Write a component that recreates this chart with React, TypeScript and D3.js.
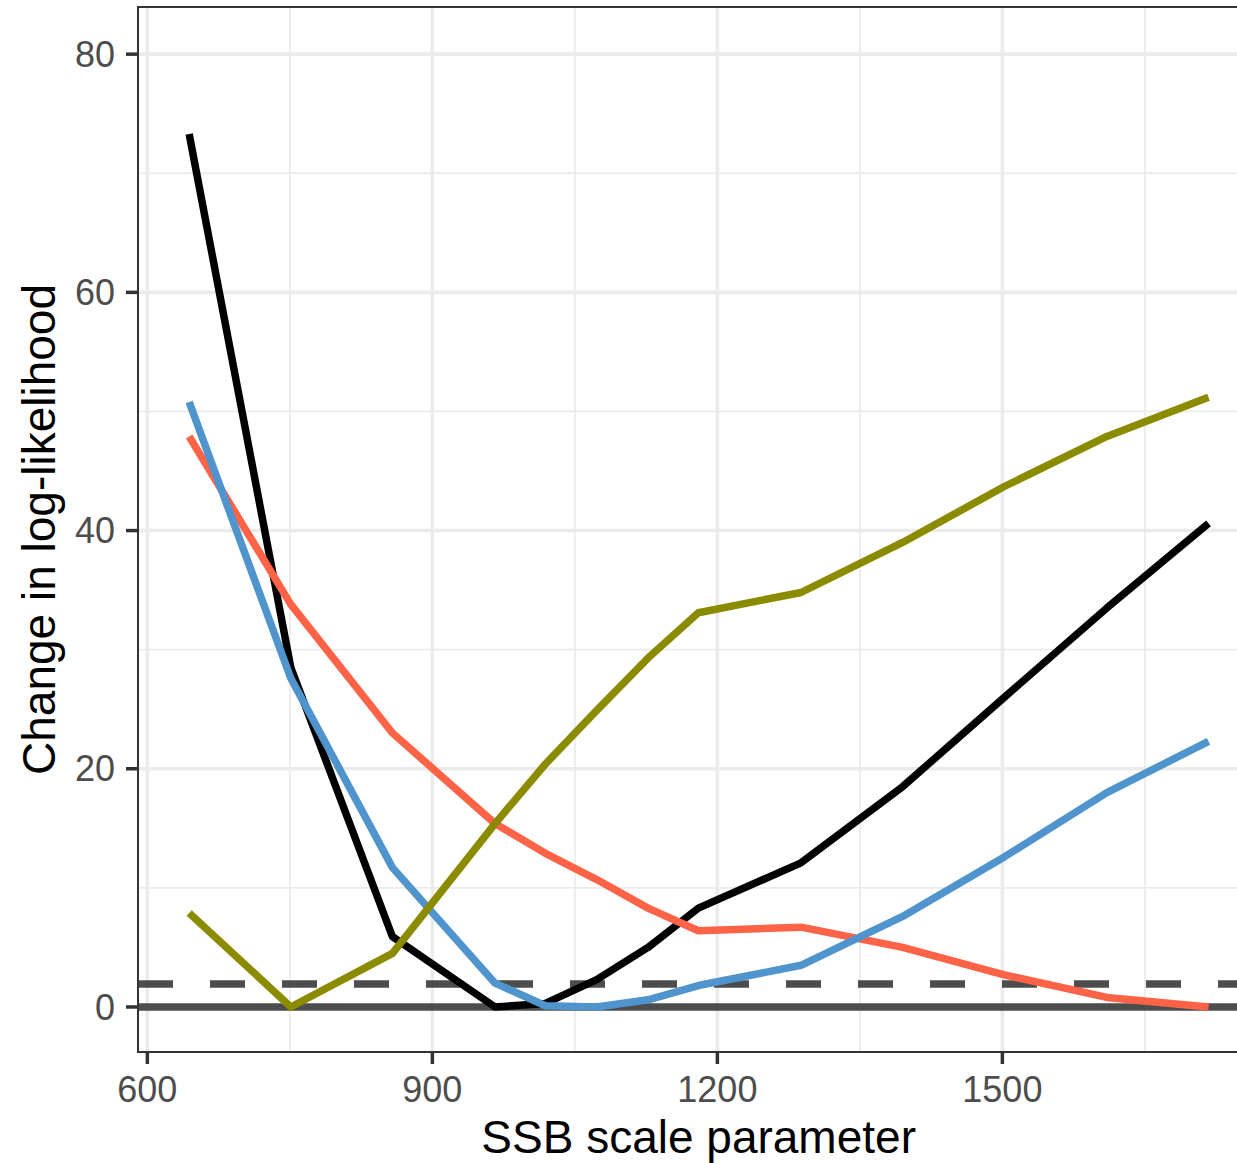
import React from "react";
import * as d3 from "d3";

const ssb = [644, 751, 858, 966, 1019, 1073, 1127, 1180, 1288, 1395, 1502, 1610, 1717];
const totalLL = [73.3, 28.5, 5.9, 0, 0.3, 2.3, 5.0, 8.3, 12.1, 18.5, 26.0, 33.5, 40.6];
const redLL = [47.9, 33.8, 23.0, 15.4, 12.9, 10.7, 8.3, 6.4, 6.7, 5.0, 2.7, 0.8, 0];
const blueLL = [50.8, 27.6, 11.7, 2.0, 0.1, 0, 0.6, 1.8, 3.5, 7.6, 12.6, 18.0, 22.3];
const oliveLL = [7.9, 0, 4.5, 15.4, 20.4, 24.9, 29.3, 33.1, 34.8, 39.0, 43.7, 47.9, 51.2];

const xTicks = [600, 900, 1200, 1500];
const xMinor = [750, 1050, 1350, 1650];
const yTicks = [0, 20, 40, 60, 80];
const yMinor = [10, 30, 50, 70];
const threshold = 1.92;

const seriesList = [
  { name: "total", values: totalLL, color: "#000000" },
  { name: "red", values: redLL, color: "#FF6347" },
  { name: "blue", values: blueLL, color: "#4F94CD" },
  { name: "olive", values: oliveLL, color: "#8B8B00" },
];

export default function App() {
  const W = 1237, H = 1163;
  const left = 138, top = 7, bottom = 1052, right = 1259.3;
  const x = d3.scaleLinear().domain([590.15, 1770.45]).range([left, right]);
  const y = d3.scaleLinear().domain([-3.78, 83.96]).range([bottom, top]);
  const line = d3.line<number>().x((_, i) => x(ssb[i])).y((d) => y(d));
  const font = "'Liberation Sans', Arial, Helvetica, sans-serif";
  return (
    <svg width={W} height={H} style={{ position: "absolute", left: 0, top: 0, display: "block", background: "#fff" }}>
      <defs>
        <clipPath id="panel">
          <rect x={left} y={top} width={right - left} height={bottom - top} />
        </clipPath>
      </defs>
      <rect x={0} y={0} width={W} height={H} fill="#fff" />
      <g clipPath="url(#panel)">
        {xMinor.map((v) => (
          <line key={"xm" + v} x1={x(v)} x2={x(v)} y1={top} y2={bottom} stroke="#EBEBEB" strokeWidth={1.8} />
        ))}
        {yMinor.map((v) => (
          <line key={"ym" + v} x1={left} x2={right} y1={y(v)} y2={y(v)} stroke="#EBEBEB" strokeWidth={1.8} />
        ))}
        {xTicks.map((v) => (
          <line key={"xg" + v} x1={x(v)} x2={x(v)} y1={top} y2={bottom} stroke="#EBEBEB" strokeWidth={3.6} />
        ))}
        {yTicks.map((v) => (
          <line key={"yg" + v} x1={left} x2={right} y1={y(v)} y2={y(v)} stroke="#EBEBEB" strokeWidth={3.6} />
        ))}
        <line x1={left} x2={right} y1={y(0)} y2={y(0)} stroke="#4D4D4D" strokeWidth={7.5} />
        <line x1={left} x2={right} y1={y(threshold)} y2={y(threshold)} stroke="#4D4D4D" strokeWidth={7.5} strokeDasharray="35,37" />
        {seriesList.map((s) => (
          <path key={s.name} d={line(s.values) || ""} fill="none" stroke={s.color} strokeWidth={7.5} strokeLinejoin="round" strokeLinecap="butt" />
        ))}
      </g>
      <rect x={left} y={top} width={right - left} height={bottom - top} fill="none" stroke="#333333" strokeWidth={2} />
      {yTicks.map((v) => (
        <g key={"yt" + v}>
          <line x1={left - 12} x2={left} y1={y(v)} y2={y(v)} stroke="#333333" strokeWidth={3.5} />
          <text x={left - 23} y={y(v)} dy="0.35em" textAnchor="end" fontFamily={font} fontSize={36} fill="#4D4D4D">{v}</text>
        </g>
      ))}
      {xTicks.map((v) => (
        <g key={"xt" + v}>
          <line x1={x(v)} x2={x(v)} y1={bottom} y2={bottom + 12} stroke="#333333" strokeWidth={3.5} />
          <text x={x(v)} y={1102} textAnchor="middle" fontFamily={font} fontSize={36} fill="#4D4D4D">{v}</text>
        </g>
      ))}
      <text x={(left + right) / 2} y={1153} textAnchor="middle" fontFamily={font} fontSize={46} fill="#000">SSB scale parameter</text>
      <text transform={`translate(55,${(top + bottom) / 2}) rotate(-90)`} textAnchor="middle" fontFamily={font} fontSize={46} fill="#000">Change in log-likelihood</text>
    </svg>
  );
}
